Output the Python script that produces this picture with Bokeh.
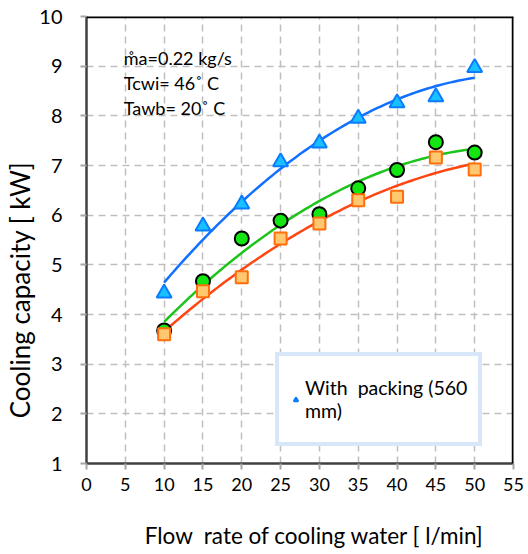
import numpy as np
from bokeh.plotting import figure
from bokeh.models import Range1d, FixedTicker, Span, Legend, LegendItem, Label
from bokeh.embed import file_html
from bokeh.resources import INLINE

# data
flow = [10, 15, 20, 25, 30, 35, 40, 45, 50]
with_packing = [4.43, 5.78, 6.22, 7.07, 7.45, 7.95, 8.26, 8.38, 8.97]
series_green = [3.68, 4.67, 5.53, 5.89, 6.02, 6.54, 6.91, 7.47, 7.26]
series_orange = [3.60, 4.47, 4.75, 5.53, 5.83, 6.30, 6.37, 7.16, 6.92]
x_ticks = [0, 5, 10, 15, 20, 25, 30, 35, 40, 45, 50, 55]
y_ticks = [1, 2, 3, 4, 5, 6, 7, 8, 9, 10]
notes = ["m\u030aa=0.22 kg/s", "Tcwi= 46\u02da C", "Tawb= 20\u02da C"]
x_title = "Flow\u00a0 rate of cooling water [ l/min]"
y_title = "Cooling capacity [ kW]"
legend_label = "With\u00a0 packing (560\nmm)"

FONT = "Lato"
PAD = "\u00a0"

p = figure(width=528, height=554, output_backend="svg", toolbar_location=None,
           x_range=Range1d(0, 55), y_range=Range1d(1, 10),
           min_border_left=86, min_border_right=15, min_border_top=16, min_border_bottom=91)
p.background_fill_color = "white"
p.border_fill_color = "white"
p.outline_line_color = None

for ax, ticks, fs in ((p.xaxis[0], x_ticks, "18px"), (p.yaxis[0], y_ticks, "20px")):
    ax.ticker = FixedTicker(ticks=ticks)
    ax.minor_tick_line_color = None
    ax.major_tick_in = 0
    ax.major_tick_out = 6
    ax.major_tick_line_color = "#a6a6a6"
    ax.major_tick_line_width = 2
    ax.axis_line_color = "#404040"
    ax.axis_line_width = 2.5
    ax.major_label_text_font = FONT
    ax.major_label_text_font_size = fs
    ax.major_label_text_color = "black"
    ax.axis_label_text_font = FONT
    ax.axis_label_text_font_style = "normal"
    ax.axis_label_text_color = "black"

# titles padded so that they sit off-centre like the original
p.xaxis[0].axis_label = PAD * 5 + x_title
p.xaxis[0].axis_label_text_font_size = "22.5px"
p.xaxis[0].major_label_standoff = 8
p.xaxis[0].axis_label_standoff = 28
p.yaxis[0].axis_label = y_title + PAD * 15
p.yaxis[0].axis_label_text_font_size = "26px"
p.yaxis[0].major_label_standoff = 18
p.yaxis[0].axis_label_standoff = 0

p.grid.grid_line_color = "#bfbfbf"
p.grid.grid_line_dash = "7 5"
p.grid.grid_line_width = 1.5
p.xgrid.ticker = FixedTicker(ticks=x_ticks)
p.ygrid.ticker = FixedTicker(ticks=y_ticks)

p.add_layout(Span(location=10, dimension="width", line_color="black", line_width=3.5))
p.add_layout(Span(location=55, dimension="height", line_color="black", line_width=3.5))

# trend lines (2nd-order fits)
xs = np.linspace(min(flow), max(flow), 100)
for ys, col in ((with_packing, "#1170ff"), (series_green, "#1cc41c"), (series_orange, "#ff4612")):
    c = np.polyfit(flow, ys, 2)
    p.line(xs, np.polyval(c, xs), line_color=col, line_width=2.5)

tri = p.scatter(flow, with_packing, marker="triangle", size=15,
                fill_color="#19c0ff", line_color="#0a7cff", line_width=2)
p.scatter(flow, series_green, marker="circle", size=14,
          fill_color="#14e614", line_color="black", line_width=2)
p.scatter(flow, series_orange, marker="square", size=12,
          fill_color="#ffc870", line_color="#ff6e0a", line_width=2)

for i, t in enumerate(notes):
    p.add_layout(Label(x=4.8, y=9.17 - i * 0.51, text=t, text_font=FONT,
                       text_font_size="18px", text_color="black",
                       text_baseline="alphabetic"))

legend = Legend(items=[LegendItem(label=legend_label, renderers=[tri])],
                location=(189, 17), orientation="vertical")
legend.label_text_font = FONT
legend.label_text_font_size = "19.5px"
legend.label_text_color = "black"
legend.label_text_line_height = 1.3
legend.label_height = 64
legend.border_line_color = "#b0cdf3"
legend.border_line_width = 4
legend.background_fill_color = "white"
legend.background_fill_alpha = 1
legend.padding = 11
legend.glyph_width = 11
legend.glyph_height = 11
legend.label_standoff = 4
p.add_layout(legend)

open("out.html", "w").write(file_html(p, INLINE))
